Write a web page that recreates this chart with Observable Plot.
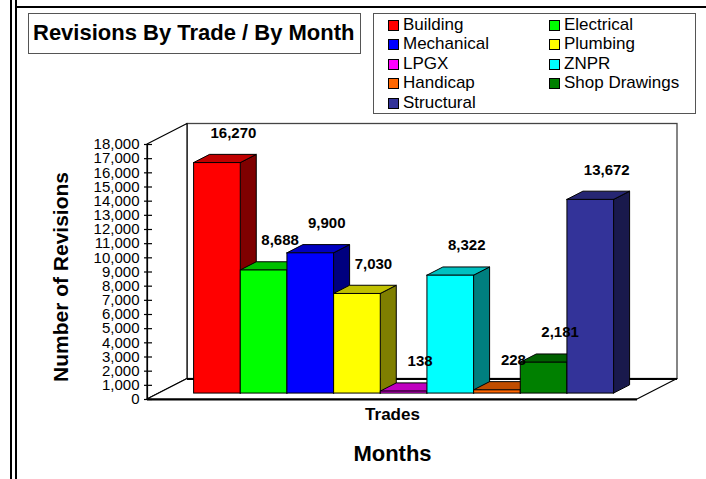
<!DOCTYPE html>
<html>
<head>
<meta charset="utf-8">
<script src="https://cdn.jsdelivr.net/npm/d3@7"></script>
<script src="https://cdn.jsdelivr.net/npm/@observablehq/plot@0.6"></script>
<style>
  body { margin: 0; background: #fff; font-family: "Liberation Sans", Arial, sans-serif; }
  #wrap { position: relative; width: 706px; height: 479px; overflow: hidden; background: #fff; }
  #wrap svg { position: absolute; left: 0; top: 0; }
  .vline { position: absolute; top: 0; width: 2px; height: 479px; background: #000; }
  .hline { position: absolute; left: 16px; top: 6px; width: 690px; height: 2px; background: #000; }
  .box { position: absolute; background: #fff; border: 1.5px solid #555; box-sizing: border-box; color: #000; }
  #title { left: 28px; top: 13px; width: 333px; height: 41px; font-weight: bold; font-size: 22px; line-height: 38px; padding-left: 4px; white-space: nowrap; }
  #legend { left: 373px; top: 13px; width: 323px; height: 101px; }
  .item { position: absolute; font-size: 17px; line-height: 19px; white-space: nowrap; }
  .sw { position: absolute; width: 11px; height: 11px; border: 1px solid #000; box-sizing: border-box; }
</style>
</head>
<body>
<div id="wrap"></div>
<script>
// ---- data ----
const trades = ["Building", "Electrical", "Mechanical", "Plumbing", "LPGX", "ZNPR", "Handicap", "Shop Drawings", "Structural"];
const revisions = [16270, 8688, 9900, 7030, 138, 8322, 228, 2181, 13672];
const colors = ["#ff0000", "#00ff00", "#0000ff", "#ffff00", "#ff00ff", "#00ffff", "#ff6600", "#008000", "#333399"];
const yTicks = [0, 1000, 2000, 3000, 4000, 5000, 6000, 7000, 8000, 9000, 10000, 11000, 12000, 13000, 14000, 15000, 16000, 17000, 18000];
const yMaxValue = 18000;
const titleText = "Revisions By Trade / By Month";
const yLabel = "Number of Revisions";
const xLabel = "Trades";
const xTitle = "Months";

// ---- layout ----
const W = 706, H = 479, mL = 147, mR = 69, mT = 144, mB = 80;
const xMin = -0.75, xMax = trades.length + 0.75;
const pxX = (W - mL - mR) / (xMax - xMin);
const pxY = (H - mT - mB) / yMaxValue;
const depthX = 40 / pxX, depthY = 20.5 / pxY;   // full depth of the 3D box
const zF = 0.29, zB = 0.69;                      // bar front/back depth
const fmt = d3.format(",");

const rows = trades.map((t, i) => ({t, i, v: revisions[i], c: colors[i],
  top: d3.color(colors[i]).darker(0.8).formatHex(),
  side: d3.color(colors[i]).darker(1.95).formatHex()}));

const sidePts = rows.flatMap(d => [zF, zB].map(z => ({i: d.i, x: d.i + 1 + z * depthX, y1: z * depthY, y2: d.v + z * depthY, c: d.side})));
const topPts = rows.flatMap(d => [zF, zB].map(z => ({i: d.i, y: d.v + z * depthY, x1: d.i + z * depthX, x2: d.i + 1 + z * depthX, c: d.top})));

const leftWall = [{x: xMin, y1: 0, y2: yMaxValue}, {x: xMin + depthX, y1: depthY, y2: yMaxValue + depthY}];
const floor = [{y: 0, x1: xMin, x2: xMax}, {y: depthY, x1: xMin + depthX, x2: xMax + depthX}];

const chart = Plot.plot({
  width: W, height: H,
  marginLeft: mL, marginRight: mR, marginTop: mT, marginBottom: mB,
  x: {type: "linear", domain: [xMin, xMax], axis: null},
  y: {domain: [0, yMaxValue], axis: null},
  color: {type: "identity"},
  style: {fontFamily: "Liberation Sans, Arial, sans-serif", fontSize: "15px", color: "#000", background: "transparent", overflow: "visible"},
  marks: [
    // back wall
    Plot.rect([0], {x1: xMin + depthX, x2: xMax + depthX, y1: depthY, y2: yMaxValue + depthY, fill: "white", stroke: "#444", strokeWidth: 1.3}),
    // left wall
    Plot.areaY(leftWall, {x: "x", y1: "y1", y2: "y2", fill: "white", stroke: "#000", strokeWidth: 1.2}),
    // floor
    Plot.areaX(floor, {y: "y", x1: "x1", x2: "x2", fill: "white", stroke: "#000", strokeWidth: 1.2}),
    Plot.ruleY([depthY], {x1: xMin + depthX, x2: xMax + depthX, stroke: "#000", strokeWidth: 2.2}),
    Plot.ruleY([0], {x1: xMin, x2: xMax, stroke: "#000", strokeWidth: 2.2}),
    // y axis
    Plot.ruleX([xMin], {y1: 0, y2: yMaxValue, stroke: "#000", strokeWidth: 1.2}),
    Plot.ruleY(yTicks, {x1: xMin - 3 / pxX, x2: xMin + 5 / pxX, stroke: "#000", strokeWidth: 1.2}),
    Plot.axisY(yTicks, {tickSize: 0, tickPadding: 8, tickFormat: fmt, fontSize: 15, label: null}),
    // bars: sides, tops, fronts
    Plot.areaY(sidePts, {x: "x", y1: "y1", y2: "y2", z: "i", fill: "c", stroke: "#000", strokeWidth: 1}),
    Plot.areaX(topPts, {y: "y", x1: "x1", x2: "x2", z: "i", fill: "c", stroke: "#000", strokeWidth: 1}),
    Plot.rect(rows, {x1: d => d.i + zF * depthX, x2: d => d.i + 1 + zF * depthX, y1: zF * depthY, y2: d => d.v + zF * depthY, fill: "c", stroke: "#000", strokeWidth: 1}),
    // value labels
    Plot.text(rows, {x: d => d.i + 0.5 + (zF + zB) / 2 * depthX, y: d => d.v + (zF + zB) / 2 * depthY, text: d => fmt(d.v), dx: 8, dy: -26, fontSize: 15, fontWeight: "bold", fill: "#000"}),
    // axis titles
    Plot.text([yLabel], {frameAnchor: "left", textAnchor: "middle", lineAnchor: "middle", dx: -86, dy: 5, rotate: -90, fontSize: 21, fontWeight: "bold", fill: "#000"}),
    Plot.text([xLabel], {frameAnchor: "bottom", textAnchor: "middle", lineAnchor: "middle", dy: 15, fontSize: 17, fontWeight: "bold", fill: "#000"}),
    Plot.text([xTitle], {frameAnchor: "bottom", textAnchor: "middle", lineAnchor: "middle", dy: 54, fontSize: 22, fontWeight: "bold", fill: "#000"})
  ]
});

const wrap = document.getElementById("wrap");
wrap.appendChild(chart);

// frame lines
for (const x of [10, 15]) {
  const v = document.createElement("div"); v.className = "vline"; v.style.left = x + "px"; wrap.appendChild(v);
}
const h = document.createElement("div"); h.className = "hline"; wrap.appendChild(h);

// title box
const title = document.createElement("div");
title.className = "box"; title.id = "title"; title.textContent = titleText;
wrap.appendChild(title);

// legend box
const legend = document.createElement("div");
legend.className = "box"; legend.id = "legend";
trades.forEach((t, i) => {
  const col = i % 2, row = Math.floor(i / 2);
  const sw = document.createElement("div");
  sw.className = "sw"; sw.style.background = colors[i];
  sw.style.left = (col ? 175 : 14) + "px"; sw.style.top = (6 + row * 19.4) + "px";
  legend.appendChild(sw);
  const it = document.createElement("div");
  it.className = "item"; it.textContent = t;
  it.style.left = (col ? 190 : 29) + "px"; it.style.top = (1 + row * 19.4) + "px";
  legend.appendChild(it);
});
wrap.appendChild(legend);
</script>
</body>
</html>
